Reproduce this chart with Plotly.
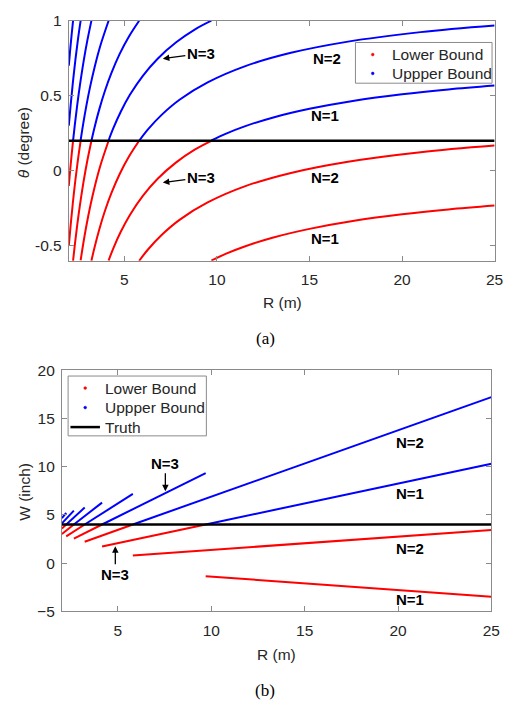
import plotly.graph_objects as go

# ---------------- data ----------------
N_values = [1, 2, 3, 4, 5, 6, 7, 8]

# (a) theta bounds, one segment per N
theta_lower_R = [
    [9.7, 10.5, 11.5, 13, 15, 17.5, 20, 22.5, 25],
    [5.8, 6.3, 7, 8, 9.5, 11.5, 14, 17, 21, 25],
    [4.15, 4.4, 4.8, 5.3, 6, 6.8, 7.8, 8.8, 9.7],
    [3.22, 3.4, 3.65, 3.95, 4.3, 4.75, 5.25, 5.8],
    [2.64, 2.78, 2.95, 3.15, 3.4, 3.7, 4.15],
    [2.23, 2.33, 2.45, 2.6, 2.8, 3.0, 3.22],
    [2.0, 2.1, 2.22, 2.36, 2.5, 2.64],
    [2.0, 2.08, 2.16, 2.23],
]
theta_lower = [
    [-0.598, -0.552, -0.504, -0.446, -0.387, -0.331, -0.29, -0.258, -0.232],
    [-0.6, -0.521, -0.429, -0.325, -0.211, -0.104, -0.014, 0.059, 0.124, 0.168],
    [-0.598, -0.518, -0.408, -0.294, -0.167, -0.053, 0.056, 0.141, 0.2],
    [-0.6, -0.506, -0.389, -0.268, -0.149, -0.021, 0.095, 0.2],
    [-0.597, -0.486, -0.366, -0.241, -0.106, 0.032, 0.2],
    [-0.6, -0.489, -0.367, -0.231, -0.071, 0.067, 0.199],
    [-0.5, -0.362, -0.213, -0.058, 0.08, 0.2],
    [-0.1, 0.012, 0.115, 0.199],
]
theta_upper_R = [
    [9.7, 10.5, 11.5, 13, 15, 17.5, 20, 22.5, 25],
    [5.8, 6.3, 7, 8, 9.5, 11.5, 14, 17, 21, 25],
    [4.15, 4.4, 4.8, 5.3, 6, 6.8, 7.8, 8.8, 9.7],
    [3.22, 3.4, 3.65, 3.95, 4.3, 4.75, 5.25, 5.8],
    [2.64, 2.78, 2.95, 3.15, 3.4, 3.7, 4.15],
    [2.23, 2.33, 2.45, 2.6, 2.8, 3.0, 3.22],
    [2.0, 2.1, 2.22, 2.36, 2.5, 2.64],
    [2.0, 2.08, 2.16, 2.23],
]
theta_upper = [
    [0.202, 0.248, 0.296, 0.354, 0.413, 0.469, 0.51, 0.542, 0.568],
    [0.2, 0.279, 0.371, 0.475, 0.589, 0.696, 0.786, 0.859, 0.924, 0.968],
    [0.202, 0.282, 0.392, 0.506, 0.633, 0.747, 0.856, 0.941, 1.0],
    [0.199, 0.294, 0.411, 0.532, 0.651, 0.779, 0.895, 1.0],
    [0.203, 0.314, 0.434, 0.559, 0.694, 0.832, 1.0],
    [0.199, 0.311, 0.433, 0.569, 0.729, 0.867, 0.999],
    [0.3, 0.438, 0.587, 0.742, 0.88, 1.0],
    [0.7, 0.812, 0.915, 0.999],
]
theta_truth = 0.2

# (b) W bounds, straight segments (start, end) per N
W_R = [[9.7, 25], [5.8, 25], [4.15, 9.7], [3.22, 5.8],
       [2.64, 4.15], [2.23, 3.22], [2.0, 2.64], [2.0, 2.23]]
W_lower = [[-1.36, -3.5], [0.79, 3.42], [1.71, 4.0], [2.21, 4.0],
           [2.54, 4.0], [2.76, 4.0], [3.02, 4.0], [3.57, 4.0]]
W_upper = [[4.0, 10.3], [4.0, 17.2], [4.0, 9.33], [4.0, 7.17],
           [4.0, 6.27], [4.0, 5.75], [4.12, 5.44], [4.67, 5.21]]
W_truth = 4.0

R_range = [2, 25]
R_ticks = [5, 10, 15, 20, 25]
theta_ticks = [-0.5, 0, 0.5, 1]
theta_ticktext = ["-0.5", "0", "0.5", "1"]
W_ticks = [-5, 0, 5, 10, 15, 20]
legend_names = ["Lower Bound", "Uppper Bound", "Truth"]

# ---------------- figure ----------------
RED = "rgb(255,0,0)"
BLUE = "rgb(0,0,255)"
FONT = "Arial, 'Liberation Sans', Helvetica, sans-serif"
SERIF = "'Times New Roman', 'Liberation Serif', serif"
AXC = "#8a8a8a"
TXC = "#262626"
W_PX, H_PX = 521, 713


def px_x(p):
    return p / W_PX


def px_y(p):
    return 1 - p / H_PX


fig = go.Figure()

# top panel curves
for i, n in enumerate(N_values):
    fig.add_trace(go.Scatter(x=theta_lower_R[i], y=theta_lower[i], mode="lines",
                             name=f"{legend_names[0]} N={n}",
                             line=dict(color=RED, width=2, shape="spline", smoothing=1),
                             showlegend=False, xaxis="x", yaxis="y"))
    fig.add_trace(go.Scatter(x=theta_upper_R[i], y=theta_upper[i], mode="lines",
                             name=f"{legend_names[1]} N={n}",
                             line=dict(color=BLUE, width=2, shape="spline", smoothing=1),
                             showlegend=False, xaxis="x", yaxis="y"))
fig.add_trace(go.Scatter(x=R_range, y=[theta_truth, theta_truth], mode="lines",
                         name=legend_names[2],
                         line=dict(color="black", width=2.5), showlegend=False,
                         xaxis="x", yaxis="y"))

# bottom panel lines
for i, n in enumerate(N_values):
    fig.add_trace(go.Scatter(x=W_R[i], y=W_lower[i], mode="lines",
                             name=f"{legend_names[0]} N={n}",
                             line=dict(color=RED, width=2), showlegend=False,
                             xaxis="x2", yaxis="y2"))
    fig.add_trace(go.Scatter(x=W_R[i], y=W_upper[i], mode="lines",
                             name=f"{legend_names[1]} N={n}",
                             line=dict(color=BLUE, width=2), showlegend=False,
                             xaxis="x2", yaxis="y2"))
fig.add_trace(go.Scatter(x=R_range, y=[W_truth, W_truth], mode="lines",
                         name=legend_names[2],
                         line=dict(color="black", width=2.5), showlegend=False,
                         xaxis="x2", yaxis="y2"))

axis_common = dict(showgrid=False, zeroline=False, showline=True, linecolor=AXC,
                   linewidth=1, mirror="ticks", ticks="inside", ticklen=5,
                   tickcolor=AXC, tickfont=dict(family=FONT, size=15.5, color=TXC))

fig.update_layout(
    width=W_PX, height=H_PX, margin=dict(l=0, r=0, t=0, b=0),
    paper_bgcolor="white", plot_bgcolor="white", showlegend=False,
    xaxis=dict(domain=[px_x(70), px_x(503.3)], range=R_range, tickvals=R_ticks,
               anchor="y", ticklabelstandoff=5, **axis_common),
    yaxis=dict(domain=[px_y(258), px_y(12)], range=[-0.6, 1], tickvals=theta_ticks,
               ticktext=theta_ticktext, anchor="x", ticklabelstandoff=3, **axis_common),
    xaxis2=dict(domain=[px_x(63), px_x(500)], range=R_range, tickvals=R_ticks,
                anchor="y2", ticklabelstandoff=5, **axis_common),
    yaxis2=dict(domain=[px_y(617), px_y(370)], range=[-5, 20], tickvals=W_ticks,
                anchor="x2", ticklabelstandoff=3, **axis_common),
)

ann = []
shapes = []


def text_ann(text, xp, yp, size=15.5, family=FONT, color=TXC, angle=0, xanchor="center"):
    ann.append(dict(text=text, x=px_x(xp), y=px_y(yp), xref="paper", yref="paper",
                    xanchor=xanchor, yanchor="middle", textangle=angle, showarrow=False,
                    font=dict(family=family, size=size, color=color)))


# axis titles and captions
text_ann("<i>θ</i> (degree)", 24, 137, angle=-90)
text_ann("R (m)", 287, 301)
text_ann("W (inch)", 25, 495, angle=-90)
text_ann("R (m)", 281.5, 661)
text_ann("(a)", 270, 338, size=17, family=SERIF, color="black")
text_ann("(b)", 270, 698, size=17, family=SERIF, color="black")


# legends (drawn as box + symbols + text)
def legend_box(x0, y0, x1, y1):
    shapes.append(dict(type="rect", xref="paper", yref="paper",
                       x0=px_x(x0), x1=px_x(x1), y0=px_y(y1), y1=px_y(y0),
                       line=dict(color=AXC, width=1), fillcolor="white", layer="above"))


def legend_dot(xp, yp, color):
    shapes.append(dict(type="circle", xref="paper", yref="paper",
                       x0=px_x(xp - 1.4), x1=px_x(xp + 1.4), y0=px_y(yp + 1.4), y1=px_y(yp - 1.4),
                       line=dict(color=color, width=0.5), fillcolor=color, layer="above"))


def legend_line(x0, x1, yp, color):
    shapes.append(dict(type="line", xref="paper", yref="paper",
                       x0=px_x(x0), x1=px_x(x1), y0=px_y(yp), y1=px_y(yp),
                       line=dict(color=color, width=2.5), layer="above"))


legend_box(361.7, 34.3, 500.7, 76)
legend_dot(379.3, 46.7, RED)
legend_dot(379.3, 66.0, BLUE)
text_ann(legend_names[0], 397.3, 46.7, xanchor="left")
text_ann(legend_names[1], 397.3, 66.0, xanchor="left")

legend_box(69.3, 376, 210, 437.3)
legend_dot(86.7, 388.3, RED)
legend_dot(86.7, 408.3, BLUE)
legend_line(71.7, 101.7, 428.3, "black")
text_ann(legend_names[0], 105, 388.3, xanchor="left")
text_ann(legend_names[1], 105, 408.3, xanchor="left")
text_ann(legend_names[2], 105, 428.3, xanchor="left")

lab_font = dict(family=FONT, size=15, color="black", weight="bold")
# top panel labels
for txt, xr, yv in [("N=2", 15.93, 0.749), ("N=1", 15.83, 0.368),
                    ("N=2", 15.85, -0.047), ("N=1", 15.83, -0.448)]:
    ann.append(dict(text=txt, x=xr, y=yv, xref="x", yref="y", showarrow=False, font=lab_font,
                    xanchor="center", yanchor="middle"))
for yv in [0.747, -0.078]:
    ann.append(dict(text="N=3", x=7.08, y=yv, xref="x", yref="y", showarrow=True,
                    ax=38, ay=-5, axref="pixel", ayref="pixel", arrowhead=2, arrowsize=1,
                    arrowwidth=1.3, arrowcolor="black", standoff=0, startstandoff=0,
                    font=lab_font))
# bottom panel labels
for txt, yv in [("N=2", 12.53), ("N=1", 7.19), ("N=2", 1.55), ("N=1", -3.75)]:
    ann.append(dict(text=txt, x=20.63, y=yv, xref="x2", yref="y2", showarrow=False, font=lab_font,
                    xanchor="center", yanchor="middle"))
ann.append(dict(text="N=3", x=7.54, y=7.45, xref="x2", yref="y2", showarrow=True,
                ax=0, ay=-28, axref="pixel", ayref="pixel", arrowhead=2, arrowsize=1,
                arrowwidth=1.3, arrowcolor="black", standoff=0, font=lab_font))
ann.append(dict(text="N=3", x=4.86, y=1.75, xref="x2", yref="y2", showarrow=True,
                ax=0, ay=28, axref="pixel", ayref="pixel", arrowhead=2, arrowsize=1,
                arrowwidth=1.3, arrowcolor="black", standoff=0, font=lab_font))
fig.update_layout(annotations=ann, shapes=shapes)

fig.write_html("out.html", config={"displayModeBar": False},
               post_script="document.body.style.margin='0';document.body.style.overflow='hidden';")
